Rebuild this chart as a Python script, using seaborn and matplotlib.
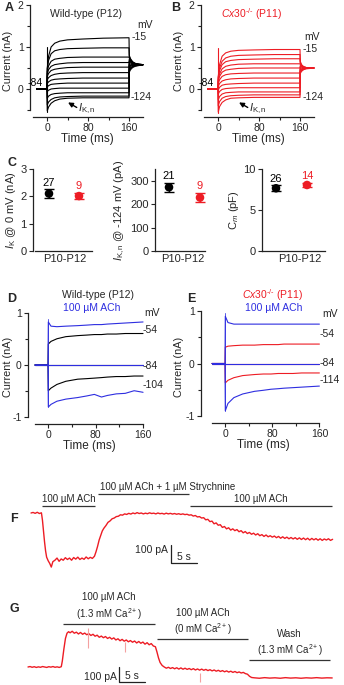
import numpy as np
import pandas as pd
import matplotlib
matplotlib.use('Agg')
import matplotlib.pyplot as plt
import seaborn as sns

sns.set_theme(style='ticks')
plt.rcParams['font.family'] = ['Liberation Sans', 'DejaVu Sans']
plt.rcParams['mathtext.fontset'] = 'custom'
plt.rcParams['mathtext.rm'] = 'Liberation Sans'
plt.rcParams['mathtext.it'] = 'Liberation Sans:italic'
plt.rcParams['mathtext.bf'] = 'Liberation Sans:bold'
plt.rcParams['axes.unicode_minus'] = False

RED = '#ed1c24'
BLUE = '#2e2ee0'
PINK = '#f4a0a0'

# ---------------- data ----------------
# A / B: voltage-step families (nA), sampled at step_times (ms)
step_times = [0.5, 3, 8, 15, 25, 40, 70, 110, 160]
A_traces = [
    [0.50, 0.78, 1.00, 1.09, 1.14, 1.17, 1.19, 1.21, 1.22],
    [0.48, 0.68, 0.84, 0.91, 0.94, 0.96, 0.97, 0.98, 0.98],
    [0.42, 0.55, 0.66, 0.71, 0.73, 0.75, 0.76, 0.76, 0.76],
    [0.36, 0.46, 0.54, 0.58, 0.60, 0.62, 0.63, 0.63, 0.63],
    [0.30, 0.37, 0.44, 0.47, 0.49, 0.51, 0.52, 0.52, 0.52],
    [0.22, 0.27, 0.32, 0.35, 0.37, 0.38, 0.39, 0.39, 0.39],
    [0.13, 0.17, 0.21, 0.23, 0.24, 0.25, 0.26, 0.26, 0.26],
    [0.05, 0.08, 0.11, 0.12, 0.13, 0.14, 0.14, 0.14, 0.14],
    [-0.06, -0.03, 0.00, 0.01, 0.02, 0.02, 0.02, 0.02, 0.02],
    [-0.22, -0.17, -0.13, -0.11, -0.10, -0.09, -0.09, -0.09, -0.09],
    [-0.38, -0.31, -0.25, -0.21, -0.19, -0.18, -0.17, -0.17, -0.17],
    [-0.52, -0.43, -0.34, -0.28, -0.24, -0.22, -0.21, -0.21, -0.21],
]
B_traces = [
    [0.30, 0.58, 0.78, 0.86, 0.90, 0.92, 0.93, 0.94, 0.94],
    [0.28, 0.50, 0.66, 0.74, 0.78, 0.80, 0.81, 0.82, 0.82],
    [0.26, 0.44, 0.58, 0.65, 0.68, 0.70, 0.71, 0.72, 0.72],
    [0.22, 0.36, 0.48, 0.54, 0.57, 0.59, 0.60, 0.60, 0.60],
    [0.18, 0.30, 0.40, 0.45, 0.47, 0.49, 0.50, 0.50, 0.50],
    [0.13, 0.22, 0.30, 0.34, 0.36, 0.37, 0.38, 0.38, 0.38],
    [0.06, 0.13, 0.19, 0.22, 0.24, 0.25, 0.26, 0.26, 0.26],
    [-0.02, 0.04, 0.09, 0.11, 0.12, 0.13, 0.14, 0.14, 0.14],
    [-0.12, -0.06, -0.01, 0.01, 0.02, 0.03, 0.03, 0.03, 0.03],
    [-0.26, -0.18, -0.12, -0.09, -0.08, -0.07, -0.07, -0.07, -0.07],
    [-0.40, -0.30, -0.22, -0.18, -0.16, -0.15, -0.14, -0.14, -0.14],
    [-0.55, -0.42, -0.32, -0.26, -0.22, -0.21, -0.20, -0.20, -0.20],
]
tail_times = [160.5, 163, 167, 172, 180, 187]
A_tails = [
    [0.80, 0.72, 0.65, 0.61, 0.59, 0.58],
    [0.77, 0.70, 0.64, 0.61, 0.59, 0.58],
    [0.74, 0.68, 0.63, 0.60, 0.59, 0.58],
    [0.71, 0.66, 0.62, 0.60, 0.58, 0.58],
    [0.67, 0.64, 0.61, 0.59, 0.58, 0.58],
    [0.64, 0.62, 0.60, 0.59, 0.58, 0.58],
    [0.60, 0.59, 0.58, 0.58, 0.58, 0.58],
    [0.56, 0.56, 0.57, 0.57, 0.58, 0.58],
    [0.52, 0.54, 0.56, 0.57, 0.57, 0.58],
    [0.48, 0.51, 0.54, 0.56, 0.57, 0.57],
    [0.44, 0.49, 0.53, 0.55, 0.57, 0.57],
    [0.40, 0.46, 0.51, 0.54, 0.56, 0.57],
]
B_tails = [
    [0.66, 0.58, 0.53, 0.51, 0.50, 0.50],
    [0.63, 0.57, 0.53, 0.51, 0.50, 0.50],
    [0.61, 0.56, 0.52, 0.51, 0.50, 0.50],
    [0.58, 0.55, 0.52, 0.51, 0.50, 0.50],
    [0.56, 0.53, 0.51, 0.50, 0.50, 0.50],
    [0.53, 0.52, 0.51, 0.50, 0.50, 0.50],
    [0.50, 0.50, 0.50, 0.50, 0.50, 0.50],
    [0.47, 0.48, 0.49, 0.50, 0.50, 0.50],
    [0.45, 0.47, 0.49, 0.49, 0.50, 0.50],
    [0.42, 0.45, 0.48, 0.49, 0.50, 0.50],
    [0.40, 0.44, 0.47, 0.49, 0.49, 0.50],
    [0.37, 0.42, 0.46, 0.48, 0.49, 0.50],
]
pre_step = [-20, 0]
A_cap = [-0.55, 1.0]
B_cap = [-0.56, 0.98]

# C: summary (mean, sem, n) for wild-type and Cx30-/-
C_groups = ['Wild-type', 'Cx30-/-']
C_IK = [2.10, 2.01]
C_IK_sem = [0.16, 0.11]
C_IK_n = [27, 9]
C_IKn = [272, 228]
C_IKn_sem = [19, 20]
C_IKn_n = [21, 9]
C_Cm = [7.65, 8.05]
C_Cm_sem = [0.35, 0.3]
C_Cm_n = [26, 14]

# D / E: ACh effect (nA)
DE_times = [0.5, 5, 15, 30, 50, 65, 78, 90, 100, 115, 130, 145, 160]
D_ctl_m54 = [0.40, 0.45, 0.50, 0.54, 0.56, 0.57, 0.58, 0.58, 0.59, 0.59, 0.60, 0.60, 0.60]
D_ach_m54 = [0.82, 0.74, 0.73, 0.74, 0.75, 0.76, 0.77, 0.77, 0.78, 0.79, 0.80, 0.81, 0.82]
D_ctl_m104 = [-0.49, -0.44, -0.37, -0.31, -0.27, -0.26, -0.25, -0.24, -0.23, -0.22, -0.22, -0.21, -0.21]
D_ach_m104 = [-0.80, -0.75, -0.69, -0.65, -0.62, -0.59, -0.56, -0.61, -0.58, -0.55, -0.54, -0.49, -0.52]
E_ctl_m54 = [0.31, 0.33, 0.34, 0.35, 0.35, 0.36, 0.36, 0.36, 0.37, 0.37, 0.37, 0.37, 0.37]
E_ach_m54 = [0.90, 0.78, 0.75, 0.75, 0.75, 0.75, 0.75, 0.75, 0.75, 0.75, 0.75, 0.75, 0.75]
E_ctl_m114 = [-0.37, -0.32, -0.27, -0.23, -0.21, -0.20, -0.20, -0.19, -0.19, -0.19, -0.18, -0.18, -0.18]
E_ach_m114 = [-0.90, -0.76, -0.65, -0.58, -0.53, -0.51, -0.49, -0.48, -0.47, -0.46, -0.45, -0.44, -0.43]
DE_pre = [-22, 0]
D_cap = [-0.80, 0.88]
E_cap = [-0.90, 0.97]

# F: ACh / strychnine trace (s, pA)
F_t = [0, 0.4, 0.8, 1.2, 1.6, 2.0, 2.2, 2.4, 2.6, 2.8, 3.0, 3.3, 3.6, 3.9, 4.2,
       4.6, 5.0, 5.4, 5.8, 6.2, 6.6, 7.0, 7.4, 7.8, 8.2, 8.6, 9.0, 9.4, 9.8, 10.2,
       10.6, 11.0, 11.4, 11.8, 12.2, 12.5, 12.8, 13.1, 13.4, 13.7, 14.0, 14.4, 14.8,
       15.2, 15.6, 16.0, 16.4, 16.8, 17.2, 17.6, 18.0, 18.4, 18.8, 19.2, 19.6, 20.0,
       20.4, 20.8, 21.2, 21.6, 22.0, 22.4, 22.8, 23.2, 23.6, 24.0, 24.4, 24.8, 25.2,
       25.6, 26.0, 26.4, 26.8, 27.2, 27.6, 28.0, 28.4, 28.8, 29.2, 29.6, 30.0, 30.4,
       30.8, 31.2, 31.6, 32.0, 32.4, 32.8, 33.2, 33.6, 34.0, 34.4, 34.8, 35.2, 35.6,
       36.0, 36.4, 36.8, 37.2, 37.6, 38.0, 38.4, 38.8, 39.2, 39.6, 40.0, 40.4, 40.8,
       41.2, 41.6, 42.0, 42.4, 42.8, 43.2, 43.6, 44.0, 44.4, 44.8, 45.2, 45.6, 46.0,
       46.4, 46.8, 47.2, 47.6, 48.0, 48.4, 48.8, 49.2, 49.6, 50.0, 50.4, 50.8, 51.2,
       51.6, 52.0, 52.4, 52.8, 53.2, 53.6, 54.0, 54.4, 54.8, 55.2, 55.6, 56.0, 56.4,
       56.8, 57.2, 57.6, 58.0]
F_i = [0, 3, -2, 4, -3, 1, -40, -100, -160, -210, -245, -265, -280, -300, -270,
       -262, -250, -268, -255, -262, -248, -258, -250, -262, -247, -256, -245, -258, -250, -257,
       -244, -254, -246, -252, -240, -215, -185, -150, -125, -100, -85, -70, -52,
       -44, -32, -28, -20, -18, -10, -12, -5, -8, -2, -6, 0, -4,
       2, -3, 0, -5, -1, -4, 1, -3, -1, -5, 0, -4, -2,
       -6, -1, -5, -2, -6, -3, -7, -4, -8, -5, -9, -7, -12,
       -10, -17, -14, -22, -20, -28, -26, -38, -35, -48, -45, -60, -55,
       -68, -65, -80, -75, -88, -82, -95, -88, -98, -92, -104, -98, -110,
       -103, -114, -108, -118, -112, -122, -115, -126, -120, -130, -122, -132, -126,
       -134, -128, -137, -130, -140, -132, -141, -134, -143, -136, -144, -137, -146,
       -138, -147, -139, -148, -140, -150, -141, -149, -142, -151, -143, -152, -144,
       -150, -143, -152, -146]
F_bar_start = [2.1, 12.9, 30.6]
F_bar_end = [12.3, 30.4, 57.9]
F_bar_level = [39, 106, 39]
F_bar_text = ['100 µM ACh', '100 µM ACh + 1 µM Strychnine', '100 µM ACh']

# G: ACh in 1.3 / 0 mM Ca2+ (s, pA)
G_t = [0, 0.4, 0.8, 1.2, 1.6, 2.0, 2.4, 2.8, 3.2, 3.6, 4.0, 4.4, 4.8, 5.2, 5.6, 6.0, 6.4,
       6.6, 6.9, 7.2, 7.5, 7.8, 8.1, 8.5, 8.9, 9.3, 9.7, 10.1, 10.5, 10.9, 11.3, 11.7,
       12.1, 12.5, 12.9, 13.3, 13.7, 14.1, 14.5, 14.9, 15.3, 15.7, 16.1, 16.5, 16.9,
       17.3, 17.7, 18.1, 18.5, 18.9, 19.3, 19.7, 20.1, 20.5, 20.9, 21.3, 21.7, 22.1,
       22.5, 22.9, 23.3, 23.7, 24.1, 24.5, 24.8, 25.1, 25.4, 25.8, 26.2, 26.6,
       27.0, 27.4, 27.8, 28.2, 28.6, 29.0, 29.4, 29.8, 30.2, 30.6, 31.0, 31.4, 31.8,
       32.2, 32.6, 33.0, 33.4, 33.8, 34.2, 34.6, 35.0, 35.4, 35.8, 36.2, 36.6, 37.0,
       37.4, 37.8, 38.2, 38.6, 39.0, 39.4, 39.8, 40.2, 40.6, 41.0, 41.4, 41.8, 42.2,
       42.6, 43.0, 43.5, 44.5, 45.5, 46.5, 47.5, 48.5, 49.5, 50.5, 51.5, 52.5, 53.5,
       54.5, 55.5, 56.5, 57.5, 58.5]
G_i = [0, 3, -2, 2, -3, 1, -2, 3, 0, -3, 2, -1, 3, -2, 1, -3, 2,
       40, 120, 190, 225, 235, 228, 238, 225, 232, 220, 230, 218, 226, 215, 222,
       210, 218, 205, 212, 198, 206, 195, 203, 190, 198, 186, 194, 180,
       188, 175, 184, 172, 180, 168, 176, 165, 173, 160, 170, 158, 166,
       152, 162, 148, 156, 140, 135, 100, 60, 30, 10, 0, -8,
       -2, -10, -4, -12, -5, -14, -6, -15, -8, -16, -10, -18, -11,
       -20, -13, -21, -14, -22, -16, -24, -18, -26, -20, -28, -22, -30,
       -24, -32, -26, -34, -28, -36, -30, -38, -33, -40, -36, -44, -48,
       -62, -70, -72, -75, -71, -74, -72, -75, -71, -74, -72, -75, -72,
       -74, -71, -74, -72, -73]
G_spike_t = [11.5, 18.7, 33.0]
G_spike_lo = [127, 100, -100]
G_spike_hi = [260, 167, -40]
G_bar_start = [6.7, 24.8, 42.5]
G_bar_end = [24.4, 42.3, 58.1]
G_bar_level = [287, 187, 47]
G_bar_text = ['100 µM ACh\n(1.3 mM Ca$^{2+}$)', '100 µM ACh\n(0 mM Ca$^{2+}$)',
              'Wash\n(1.3 mM Ca$^{2+}$)']
scale_pA = 100
scale_s = 5

KO_LABEL = r'$\mathit{Cx30}^{\text{-/-}}$ (P11)'

# ---------------- layout helpers ----------------
W, H = 344, 685
fig = plt.figure(figsize=(W / 100, H / 100), dpi=100)


def px_axes(x0, y0, x1, y1):
    return fig.add_axes([x0 / W, 1 - y1 / H, (x1 - x0) / W, (y1 - y0) / H])


def ftext(x, y, s, **kw):
    kw.setdefault('fontsize', 7.5)
    kw.setdefault('va', 'center')
    fig.text(x / W, 1 - y / H, s, **kw)


def style_trace_ax(ax, xlim, ylim, xb, yb, yminor, ylab_x):
    ax.set_xlim(*xlim)
    ax.set_ylim(*ylim)
    sns.despine(ax=ax)
    for s in ['left', 'bottom']:
        ax.spines[s].set_linewidth(0.9)
        ax.spines[s].set_color('#222222')
    ax.spines['left'].set_bounds(*yb)
    ax.spines['bottom'].set_bounds(*xb)
    ax.set_xticks([0, 80, 160])
    ax.set_xticks([40, 120], minor=True)
    ax.set_yticks(yminor, minor=True)
    ax.tick_params(which='both', direction='out', length=3, width=0.8,
                   labelsize=7.5, pad=1.5, color='#222222')
    ax.tick_params(which='minor', length=2)
    ax.set_xlabel('Time (ms)', fontsize=8.5, labelpad=0)
    ax.set_ylabel('Current (nA)', fontsize=7.8)
    ax.yaxis.set_label_coords(ylab_x, 0.5)
    ax.patch.set_alpha(0)


def family_frame(traces, tails):
    rows = []
    for k, (tr, tl) in enumerate(zip(traces, tails)):
        t = pre_step + step_times + tail_times
        i = [0.0, 0.0] + tr + tl
        rows += [(k, a, b) for a, b in zip(t, i)]
    return pd.DataFrame(rows, columns=['trace', 't', 'I'])


def de_frame(traces):
    rows = []
    for k, tr in enumerate(traces):
        t = DE_pre + DE_times
        i = [0.0, 0.0] + tr
        rows += [(k, a, b) for a, b in zip(t, i)]
    return pd.DataFrame(rows, columns=['trace', 't', 'I'])


# ---------------- A & B ----------------
for key, (x0, x1), traces, tails, cap, col in [
        ('A', (30, 145), A_traces, A_tails, A_cap, 'black'),
        ('B', (201, 316), B_traces, B_tails, B_cap, RED)]:
    ax = px_axes(x0, 5, x1, 117)
    df = family_frame(traces, tails)
    sns.lineplot(data=df, x='t', y='I', units='trace', estimator=None, sort=False,
                 color=col, lw=0.8, ax=ax, legend=False)
    ax.plot([0, 0], cap, color=col, lw=0.8)
    style_trace_ax(ax, (-33.2, 191.2), (-0.667, 2.0), (-27, 187), (-0.5, 2),
                   [-0.5, 0.5, 1.5], -17 / 115)
    ax.set_yticks([0, 1, 2])
    ax.text(-8, 0.14, '-84', fontsize=7.5, ha='right', va='center', color='black')
    ax.annotate('', xy=(41, -0.32), xytext=(58, -0.44),
                arrowprops=dict(arrowstyle='-|>', color='black', lw=1.0,
                                mutation_scale=7, shrinkA=0, shrinkB=0))
    ax.text(61, -0.47, r'$\mathit{I}_{\mathrm{K,n}}$', fontsize=8, va='center')

ftext(9, 8, 'A', fontsize=9, fontweight='bold', ha='center')
ftext(176, 8, 'B', fontsize=9, fontweight='bold', ha='center')
ftext(50, 14, 'Wild-type (P12)', ha='left')
ftext(221, 14, KO_LABEL, ha='left', color=RED)
ftext(137, 25, 'mV', ha='left')
ftext(132, 37, '-15', ha='left')
ftext(131, 97, '-124', ha='left')
ftext(304, 37, 'mV', ha='left')
ftext(303, 49, '-15', ha='left')
ftext(303, 97, '-124', ha='left')

# ---------------- C ----------------
ftext(12, 163, 'C', fontsize=9, fontweight='bold', ha='center')
c_panels = [
    ((33, 95), (-0.533, 1.533), (-0.467, 1.433), 0.53, (0, 3), [0, 1, 2, 3],
     C_IK, C_IK_sem, C_IK_n, r'$\mathit{I}_{\mathrm{K}}$ @ 0 mV (nA)'),
    ((155, 215), (-0.452, 1.484), (-0.452, 1.161), 0.45, (0, 350), [0, 100, 200, 300],
     C_IKn, C_IKn_sem, C_IKn_n, r'$\mathit{I}_{\mathrm{K,n}}$ @ -124 mV (pA)'),
    ((262, 330), (-0.452, 1.742), (-0.452, 1.581), 0.77, (0, 10), [0, 5, 10],
     C_Cm, C_Cm_sem, C_Cm_n, r'C$_{\mathit{m}}$ (pF)'),
]
for (x0, x1), xlim, xb, lab_x, ylim, yt, vals, sem, ns, ylab in c_panels:
    ax = px_axes(x0, 169, x1, 251)
    pos = [0, 1]
    cdf = pd.DataFrame({'x': pos, 'y': vals, 'group': C_groups})
    for p, v, e, n, c in zip(pos, vals, sem, ns, ['black', RED]):
        ax.errorbar(p, v, yerr=e, fmt='none', ecolor=c, elinewidth=1.0,
                    capsize=3.5, capthick=1.0)
        ax.annotate(str(n), (p, v + e), xytext=(0, 1.2), textcoords='offset points',
                    ha='center', va='bottom', color=c, fontsize=8)
    sns.scatterplot(data=cdf, x='x', y='y', hue='group', palette=['black', RED],
                    s=38, edgecolor='none', legend=False, ax=ax, zorder=3)
    ax.set_xlim(*xlim)
    ax.set_ylim(*ylim)
    sns.despine(ax=ax)
    for s in ['left', 'bottom']:
        ax.spines[s].set_linewidth(0.9)
        ax.spines[s].set_color('#222222')
    ax.spines['left'].set_bounds(*ylim)
    ax.spines['bottom'].set_bounds(*xb)
    ax.set_yticks(yt)
    ax.set_xticks([lab_x])
    ax.set_xticklabels(['P10-P12'])
    ax.tick_params(axis='y', direction='out', length=3, width=0.8, labelsize=8, pad=1.5)
    ax.tick_params(axis='x', length=0, labelsize=8, pad=2)
    ax.set_xlabel('')
    ax.set_ylabel(ylab, fontsize=8, labelpad=2)
    ax.patch.set_alpha(0)

# ---------------- D & E ----------------
for key, (x0, x1, y1), ylim, ctl, ach, cap, ctl_col in [
        ('D', (28, 150, 424), (-1.124, 1.048), [D_ctl_m54, D_ctl_m104], [D_ach_m54, D_ach_m104],
         D_cap, 'black'),
        ('E', (201, 325, 423), (-1.133, 1.019), [E_ctl_m54, E_ctl_m114], [E_ach_m54, E_ach_m114],
         E_cap, RED)]:
    ax = px_axes(x0, 310, x1, y1)
    hold = [0.0] * len(DE_times)
    dctl = de_frame([hold] + ctl)
    dach = de_frame([hold] + ach)
    sns.lineplot(data=dctl, x='t', y='I', units='trace', estimator=None, sort=False,
                 color=ctl_col, lw=0.8, ax=ax, legend=False)
    sns.lineplot(data=dach, x='t', y='I', units='trace', estimator=None, sort=False,
                 color=BLUE, lw=0.8, ax=ax, legend=False)
    ax.plot([0, 0], cap, color=BLUE, lw=0.7, alpha=0.8)
    xl = (-33.7, 171.7) if key == 'D' else (-40.7, 169.5)
    style_trace_ax(ax, xl, ylim, (-22, 160), (-1, 1), [-0.5, 0.5],
                   -15 / (x1 - x0) if key == 'D' else -17 / (x1 - x0))
    ax.set_yticks([-1, 0, 1])

ftext(12, 299, 'D', fontsize=9, fontweight='bold', ha='center')
ftext(62, 295, 'Wild-type (P12)', ha='left')
ftext(63, 308, '100 µM ACh', ha='left', color=BLUE)
ftext(144, 313, 'mV', ha='left')
ftext(143, 330, '-54', ha='left')
ftext(143, 366, '-84', ha='left')
ftext(143, 385, '-104', ha='left')

ftext(191, 299, 'E', fontsize=9, fontweight='bold', ha='center')
ftext(242, 295, KO_LABEL, ha='left', color=RED)
ftext(245, 308, '100 µM ACh', ha='left', color=BLUE)
ftext(322, 314, 'mV', ha='left')
ftext(320, 334, '-54', ha='left')
ftext(320, 363, '-84', ha='left')
ftext(320, 380, '-114', ha='left')

# ---------------- F ----------------
axF = px_axes(28, 480, 336, 575)
sns.lineplot(x=F_t, y=F_i, color=RED, lw=1.0, sort=False, estimator=None, ax=axF)
axF.set_xlim(-0.58, 58.65)
axF.set_ylim(-344, 183)
axF.hlines(F_bar_level, F_bar_start, F_bar_end, color='#333333', lw=0.9)
for k, (a, b, lv, s) in enumerate(zip(F_bar_start, F_bar_end, F_bar_level, F_bar_text)):
    if k == 1:
        axF.annotate(s, (a + 0.3, lv), xytext=(0, 1.5), textcoords='offset points',
                     ha='left', va='bottom', fontsize=7)
    else:
        axF.annotate(s, ((a + b) / 2, lv), xytext=(0, 1.5), textcoords='offset points',
                     ha='center', va='bottom', fontsize=7)
sx, sy = 26.9, -278
axF.plot([sx, sx, sx + scale_s], [sy + scale_pA, sy, sy], color='#222222', lw=0.9)
axF.text(sx - 0.6, sy + 0.72 * scale_pA, f'{scale_pA} pA', ha='right', va='center', fontsize=7.5)
axF.text(sx + scale_s / 2, sy + 8, f'{scale_s} s', ha='center', va='bottom', fontsize=7.5)
axF.axis('off')
ftext(14, 519, 'F', fontsize=9, fontweight='bold', ha='center')

# ---------------- G ----------------
axG = px_axes(24, 596, 336, 685)
sns.lineplot(x=G_t, y=G_i, color=RED, lw=1.0, sort=False, estimator=None, ax=axG)
axG.vlines(G_spike_t, G_spike_lo, G_spike_hi, color=PINK, lw=0.8)
axG.set_xlim(-0.77, 59.23)
axG.set_ylim(-120, 473)
axG.hlines(G_bar_level, G_bar_start, G_bar_end, color='#333333', lw=0.9)
for a, b, lv, s in zip(G_bar_start, G_bar_end, G_bar_level, G_bar_text):
    axG.annotate(s, ((a + b) / 2, lv), xytext=(0, 1.5), textcoords='offset points',
                 ha='center', va='bottom', fontsize=7, linespacing=1.3)
gx, gy = 17.5, -100
axG.plot([gx, gx, gx + scale_s], [gy + scale_pA, gy, gy], color='#222222', lw=0.9)
axG.text(gx - 0.5, gy + 0.35 * scale_pA, f'{scale_pA} pA', ha='right', va='center', fontsize=7.5)
axG.text(gx + scale_s / 2, gy + 8, f'{scale_s} s', ha='center', va='bottom', fontsize=7.5)
axG.axis('off')
ftext(14, 609, 'G', fontsize=9, fontweight='bold', ha='center')

fig.savefig('out.png', dpi=100)
plt.close(fig)
